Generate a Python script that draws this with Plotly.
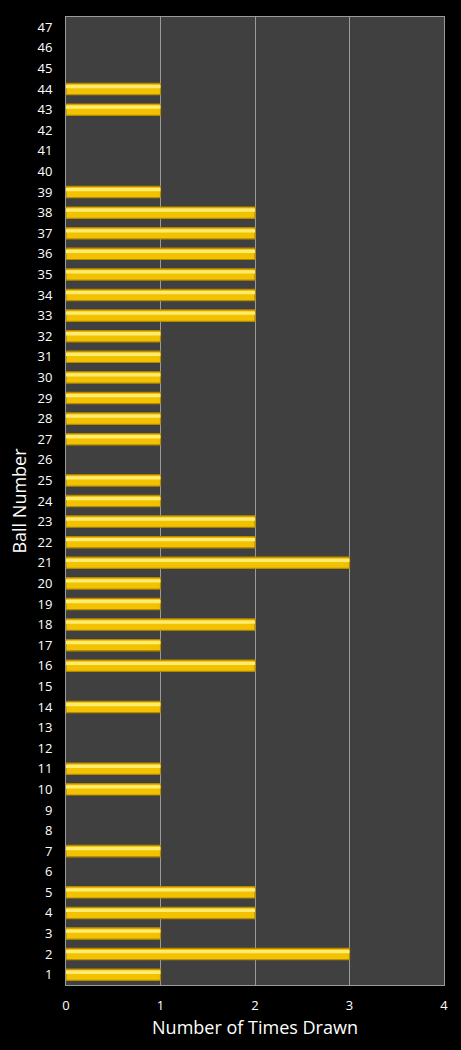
import plotly.graph_objects as go

balls = list(range(1, 48))
times_drawn = [1, 3, 1, 2, 2, 0, 1, 0, 0, 1,
               1, 0, 0, 1, 0, 2, 1, 2, 1, 1,
               3, 2, 2, 1, 1, 0, 1, 1, 1, 1,
               1, 1, 2, 2, 2, 2, 2, 2, 1, 0,
               0, 0, 1, 1, 0, 0, 0]
x_ticks = [0, 1, 2, 3, 4]

FONT = "Open Sans"
outline_w = [1.2 if v > 0 else 0 for v in times_drawn]

fig = go.Figure()
fig.add_trace(go.Bar(
    y=balls, x=times_drawn, orientation="h", width=0.55,
    marker=dict(color="#F2C200", line=dict(color="#B58A00", width=outline_w)),
    hoverinfo="x+y",
))
fig.add_trace(go.Bar(
    y=balls, x=times_drawn, orientation="h", width=0.16, offset=0.04,
    marker=dict(color="#FFEB70", line=dict(width=0)),
    hoverinfo="skip",
))
fig.update_layout(
    width=461, height=1050,
    paper_bgcolor="black", plot_bgcolor="#404040",
    margin=dict(l=66, r=17, t=17, b=65),
    barmode="overlay", showlegend=False,
    font=dict(family=FONT, color="white", size=13),
)
fig.update_xaxes(
    range=[0, 4], tickvals=x_ticks, showgrid=True, gridcolor="#9a9a9a", gridwidth=1,
    zeroline=False, showline=True, linecolor="#9a9a9a", mirror=True,
    ticks="outside", ticklen=8, tickcolor="black",
    tickfont=dict(size=13, color="white"),
    title=dict(text="Number of Times Drawn", font=dict(size=18, color="white"), standoff=8),
)
fig.update_yaxes(
    range=[0.5, 47.5], tickvals=balls, showgrid=False, zeroline=False,
    showline=True, linecolor="#9a9a9a", mirror=True,
    ticks="outside", ticklen=10, tickcolor="black",
    tickfont=dict(size=13, color="white"),
    title=dict(text="Ball Number", font=dict(size=18, color="white"), standoff=6),
)
fig.write_html("out.html")
